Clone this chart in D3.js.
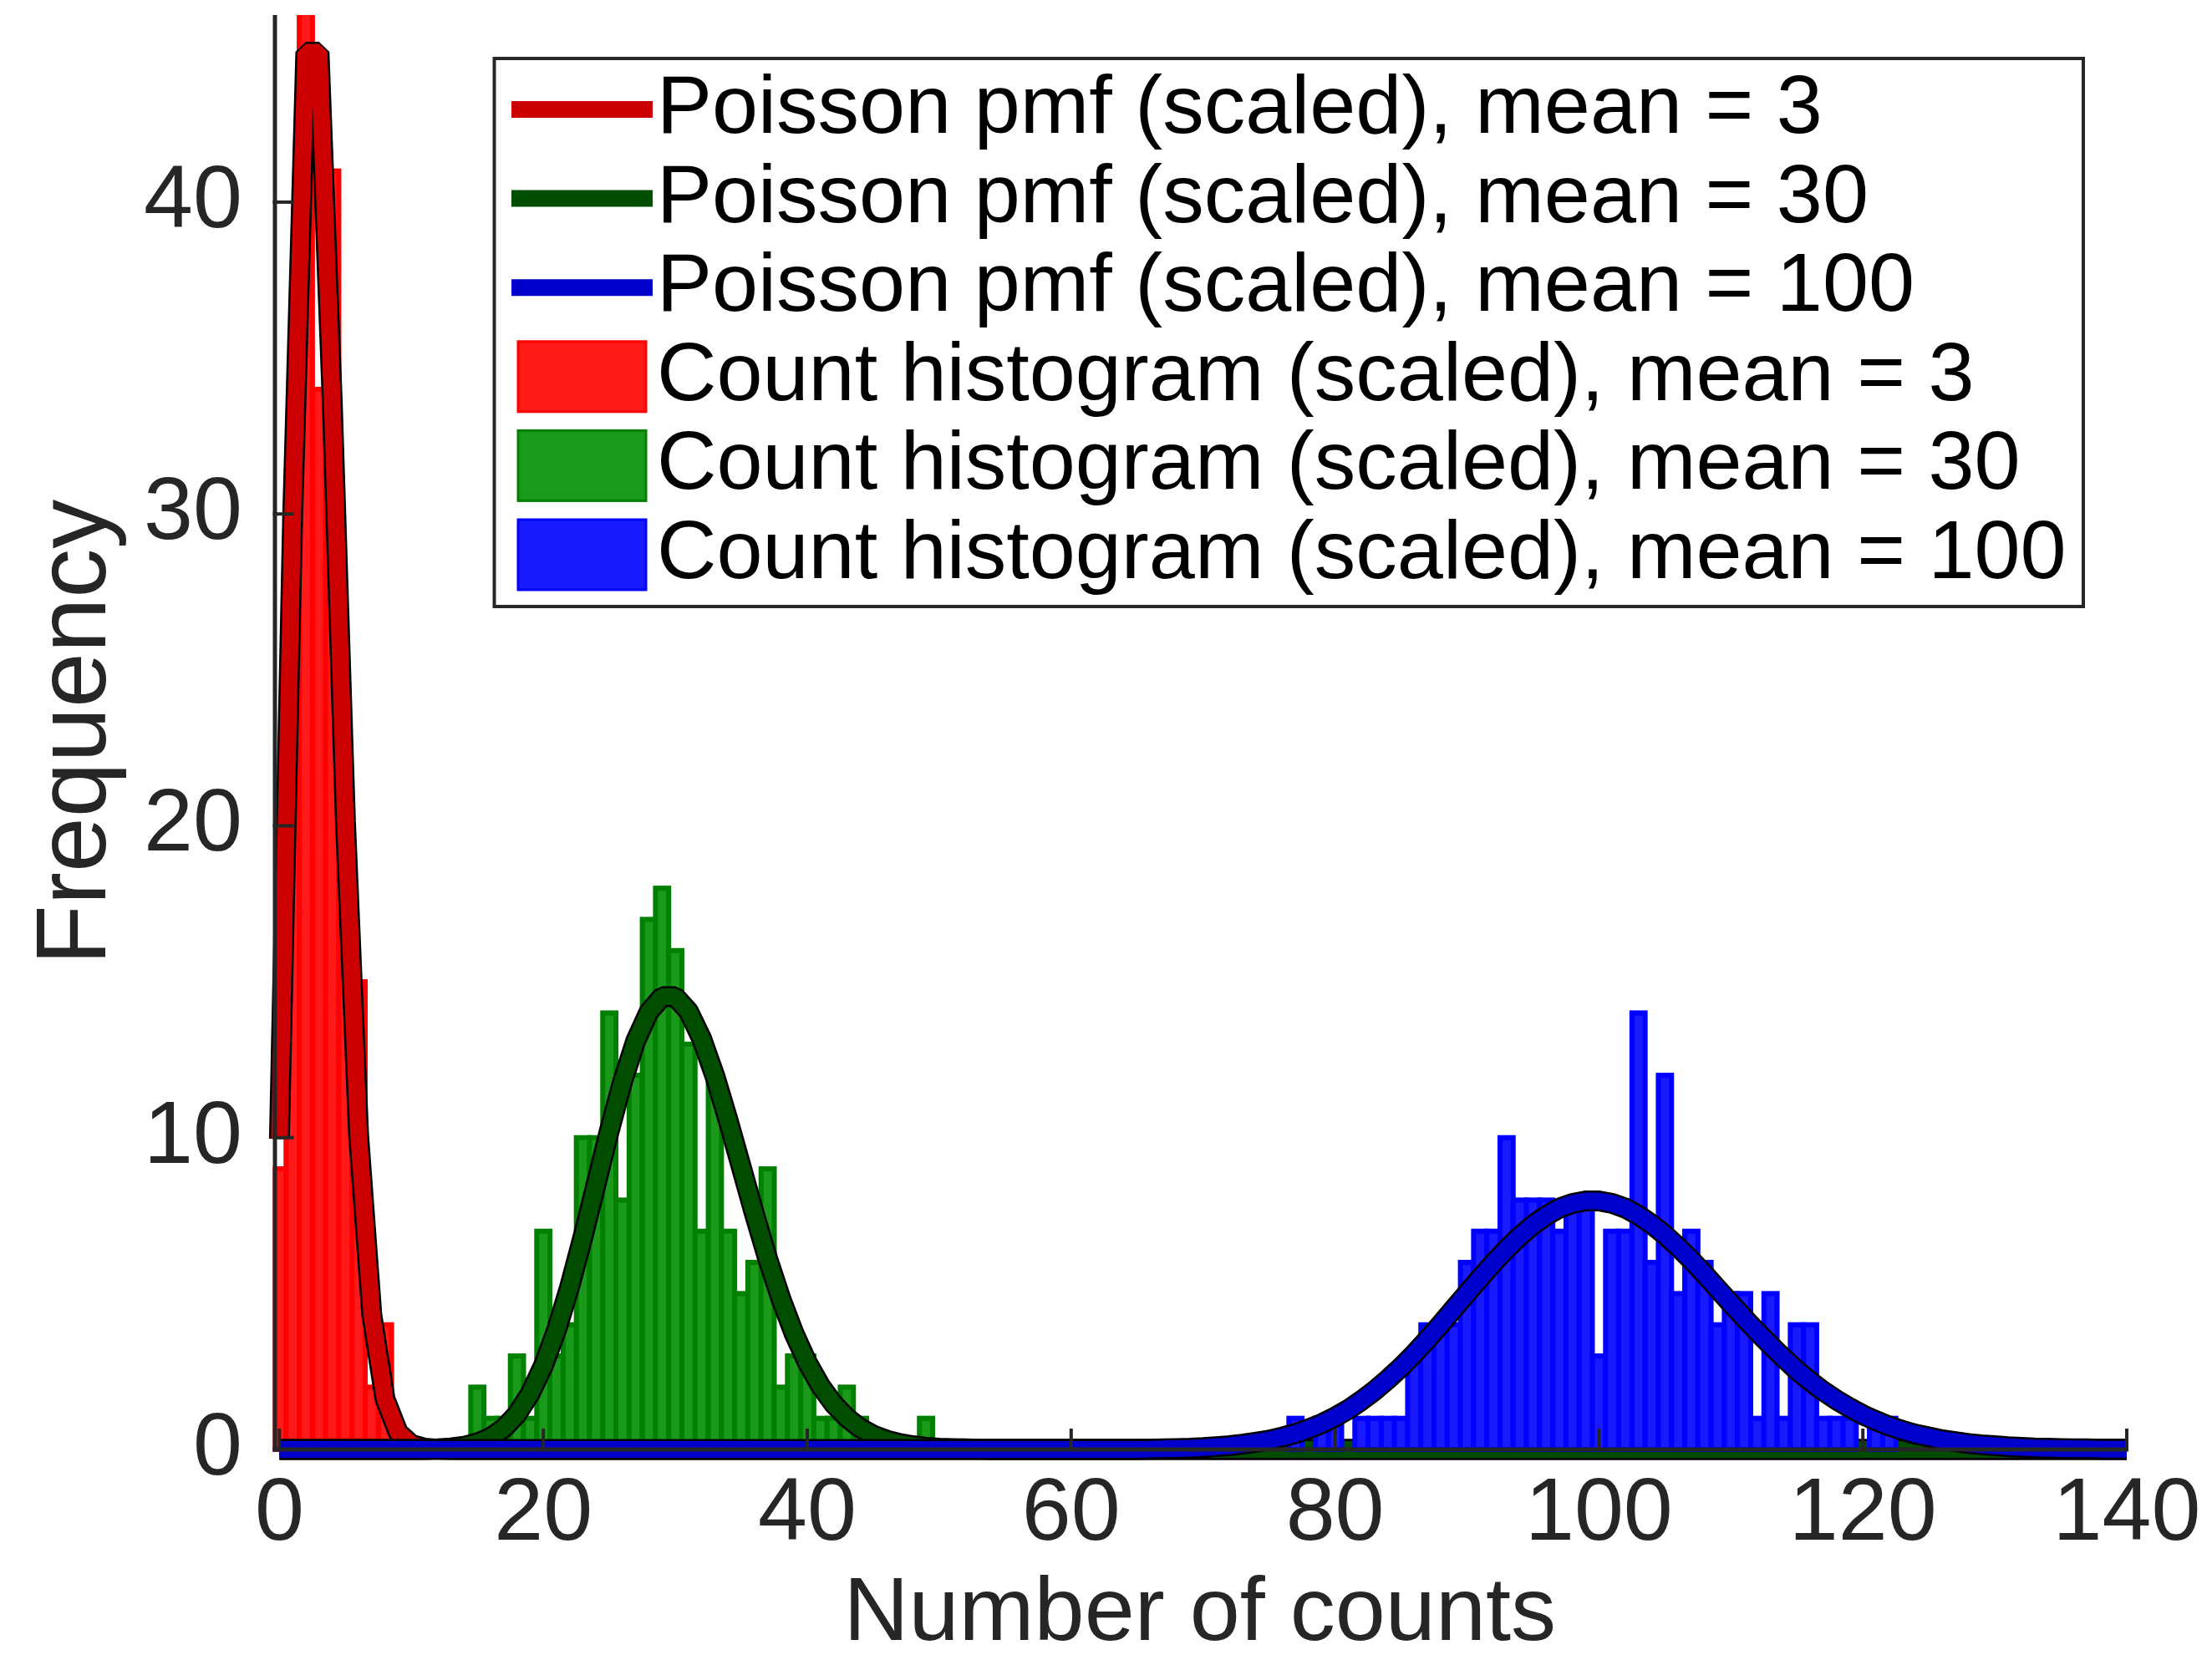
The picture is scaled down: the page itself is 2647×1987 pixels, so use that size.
<!DOCTYPE html>
<html>
<head>
<meta charset="utf-8">
<script src="https://cdn.jsdelivr.net/npm/d3@7"></script>
<style>
  body { margin: 0; background: #fff; }
  text { font-family: "Liberation Sans", Arial, Helvetica, sans-serif; }
</style>
</head>
<body>
<div id="chart"></div>
<script>
// histogram counts, one bin per integer, first bin given by *Start
const redStart = 0
const redCounts = [9, 28, 47, 34, 41, 20, 15, 2, 4]
const greenStart = 15
const greenCounts = [2, 1, 1, 3, 1, 7, 3, 4, 10, 10, 14, 8, 12, 17, 18, 16, 13, 7, 12, 7, 5, 6, 9, 2, 3, 3, 1, 1, 2, 1, 0, 0, 0, 0, 1]
const blueStart = 77
const blueCounts = [1, 0, 1, 1, 0, 1, 1, 1, 1, 3, 4, 4, 4, 6, 7, 7, 10, 8, 8, 8, 7, 8, 8, 3, 7, 7, 14, 6, 12, 5, 7, 6, 4, 5, 5, 1, 5, 1, 4, 4, 1, 1, 1, 0, 1, 1]

// scaled poisson pmf (value at k = start + i), ~0 elsewhere
const pmfRange = [0, 140]
const pmf3Start = 0
const pmf3 = [9.96, 29.87, 44.81, 44.81, 33.61, 20.16, 10.08, 4.32, 1.62, 0.54, 0.16, 0.04, 0.01]
const pmf30Start = 12
const pmf30 = [0.02, 0.05, 0.10, 0.21, 0.39, 0.68, 1.13, 1.79, 2.68, 3.83, 5.22, 6.81, 8.51, 10.22, 11.79, 13.10, 14.03, 14.52,
  14.52, 14.05, 13.17, 11.97, 10.56, 9.06, 7.55, 6.12, 4.83, 3.72, 2.79, 2.04, 1.46, 1.02, 0.69, 0.46, 0.30, 0.19, 0.12, 0.07, 0.04, 0.03, 0.02, 0.01]
const pmf100Start = 66
const pmf100 = [0.01, 0.02, 0.03, 0.04, 0.06, 0.09, 0.12, 0.17, 0.23, 0.30, 0.40, 0.51, 0.66, 0.83, 1.04, 1.28, 1.57, 1.89, 2.25, 2.64,
  3.07, 3.53, 4.01, 4.51, 5.01, 5.50, 5.98, 6.43, 6.84, 7.20, 7.50, 7.74, 7.89, 7.97, 7.97, 7.89, 7.74, 7.51, 7.22, 6.88, 6.49, 6.07,
  5.62, 5.15, 4.68, 4.22, 3.77, 3.34, 2.93, 2.54, 2.19, 1.87, 1.59, 1.34, 1.11, 0.92, 0.75, 0.61, 0.49, 0.40, 0.31, 0.25, 0.19, 0.15,
  0.12, 0.09, 0.07, 0.05, 0.04, 0.03, 0.02, 0.02, 0.01, 0.01, 0.01]

const xTicks = [0, 20, 40, 60, 80, 100, 120, 140]
const yTicks = [0, 10, 20, 30, 40]
const xLabel = "Number of counts"
const yLabel = "Frequency"
const legendLabels = [
  "Poisson pmf (scaled), mean = 3",
  "Poisson pmf (scaled), mean = 30",
  "Poisson pmf (scaled), mean = 100",
  "Count histogram (scaled), mean = 3",
  "Count histogram (scaled), mean = 30",
  "Count histogram (scaled), mean = 100"
]

// styles
var lineColors = ["#cc0000", "#004d00", "#0000cc"]
var barFill = ["#ff1a1a", "#1a991a", "#1a1aff"]
var barEdge = ["#ff0000", "#008000", "#0000ff"]
var axisColor = "#262626"

var width = 2647, height = 1987

var x = d3.scaleLinear().domain([-0.5, 140]).range([326.5, 2545])
var y = d3.scaleLinear().domain([0, 46]).range([1735, 18])

var svg = d3.select("#chart").append("svg")
    .attr("width", width)
    .attr("height", height)

svg.append("rect").attr("width", width).attr("height", height).attr("fill", "#fff")

svg.append("clipPath").attr("id", "plotClip")
  .append("rect")
    .attr("x", x(-0.5))
    .attr("y", y(46))
    .attr("width", x(140) - x(-0.5))
    .attr("height", y(0) - y(46) + 6)

function binsOf(start, counts) {
  return counts.map(function(c, i) { return {k: start + i, v: c} }).filter(function(d) { return d.v > 0 })
}

function pmfPoints(start, vals) {
  var pts = []
  for (var k = pmfRange[0]; k <= pmfRange[1]; k++) {
    var i = k - start
    pts.push([k, (i >= 0 && i < vals.length) ? vals[i] : 0])
  }
  return pts
}

var line = d3.line()
    .x(function(d) { return x(d[0]) })
    .y(function(d) { return y(d[1]) })

var series = [
  {bins: binsOf(redStart, redCounts), pmf: pmfPoints(pmf3Start, pmf3)},
  {bins: binsOf(greenStart, greenCounts), pmf: pmfPoints(pmf30Start, pmf30)},
  {bins: binsOf(blueStart, blueCounts), pmf: pmfPoints(pmf100Start, pmf100)}
]

// histogram then pmf, for each mean in turn
series.forEach(function(s, i) {
  svg.append("g")
      .attr("clip-path", "url(#plotClip)")
    .selectAll("rect")
    .data(s.bins)
    .enter().append("rect")
      .attr("x", function(d) { return x(d.k - 0.5) })
      .attr("width", function(d) { return x(d.k + 0.5) - x(d.k - 0.5) })
      .attr("y", function(d) { return y(d.v) })
      .attr("height", function(d) { return y(0) - y(d.v) })
      .attr("fill", barFill[i])
      .attr("stroke", barEdge[i])
      .attr("stroke-width", 6)

  svg.append("path")
      .datum(s.pmf)
      .attr("d", line)
      .attr("fill", "none")
      .attr("stroke", "#000")
      .attr("stroke-width", 25)
      .attr("stroke-linejoin", "bevel")

  svg.append("path")
      .datum(s.pmf)
      .attr("d", line)
      .attr("fill", "none")
      .attr("stroke", lineColors[i])
      .attr("stroke-width", 20)
      .attr("stroke-linejoin", "bevel")
})

// axes
var ax = svg.append("g")

ax.append("line")
    .attr("x1", x(-0.5)).attr("x2", x(140) + 2)
    .attr("y1", y(0)).attr("y2", y(0))
    .attr("stroke", axisColor).attr("stroke-width", 5)

ax.append("line")
    .attr("x1", x(-0.5) + 2.5).attr("x2", x(-0.5) + 2.5)
    .attr("y1", y(46)).attr("y2", y(0) + 2.5)
    .attr("stroke", axisColor).attr("stroke-width", 5)

ax.selectAll(".xtick").data(xTicks).enter().append("line")
    .attr("class", "xtick")
    .attr("x1", function(d) { return x(d) }).attr("x2", function(d) { return x(d) })
    .attr("y1", y(0)).attr("y2", y(0) - 25)
    .attr("stroke", axisColor).attr("stroke-width", 4)

ax.selectAll(".ytick").data(yTicks).enter().append("line")
    .attr("class", "ytick")
    .attr("x1", x(-0.5)).attr("x2", x(-0.5) + 25)
    .attr("y1", function(d) { return y(d) }).attr("y2", function(d) { return y(d) })
    .attr("stroke", axisColor).attr("stroke-width", 4)

ax.selectAll(".xlab").data(xTicks).enter().append("text")
    .attr("class", "xlab")
    .attr("x", function(d) { return x(d) })
    .attr("y", 1843)
    .attr("text-anchor", "middle")
    .attr("font-size", 106)
    .attr("fill", axisColor)
    .text(function(d) { return d })

ax.selectAll(".ylab").data(yTicks).enter().append("text")
    .attr("class", "ylab")
    .attr("x", 290)
    .attr("y", function(d) { return y(d) + 30 })
    .attr("text-anchor", "end")
    .attr("font-size", 106)
    .attr("fill", axisColor)
    .text(function(d) { return d })

// squeezed between the tick labels and the page edge
ax.append("text")
    .attr("x", (x(-0.5) + x(140)) / 2)
    .attr("y", 1963)
    .attr("text-anchor", "middle")
    .attr("font-size", 108)
    .attr("fill", axisColor)
    .text(xLabel)

ax.append("text")
    .attr("transform", "translate(126," + (y(0) + y(46)) / 2 + ") rotate(-90)")
    .attr("text-anchor", "middle")
    .attr("font-size", 118)
    .attr("fill", axisColor)
    .text(yLabel)

// legend
var legend = svg.append("g")

legend.append("rect")
    .attr("x", 591.5).attr("y", 70)
    .attr("width", 1901.5).attr("height", 656)
    .attr("fill", "#fff")
    .attr("stroke", axisColor)
    .attr("stroke-width", 4)

var entry = legend.selectAll(".legend-entry").data(legendLabels)
  .enter().append("g")
    .attr("class", "legend-entry")
    .attr("transform", function(d, i) { return "translate(0," + (159 + i * 106.6) + ")" })

entry.filter(function(d, i) { return i < 3 }).append("line")
    .attr("x1", 612).attr("x2", 781)
    .attr("y1", -28).attr("y2", -28)
    .attr("stroke", function(d, i) { return lineColors[i] })
    .attr("stroke-width", 20)

entry.filter(function(d, i) { return i >= 3 }).append("rect")
    .attr("x", 620).attr("y", -70)
    .attr("width", 153).attr("height", 84)
    .attr("fill", function(d, i) { return barFill[i] })
    .attr("stroke", function(d, i) { return barEdge[i] })
    .attr("stroke-width", 3)

entry.append("text")
    .attr("x", 786)
    .attr("y", 0)
    .attr("font-size", 99)
    .attr("fill", "#000")
    .text(function(d) { return d })
</script>
</body>
</html>
